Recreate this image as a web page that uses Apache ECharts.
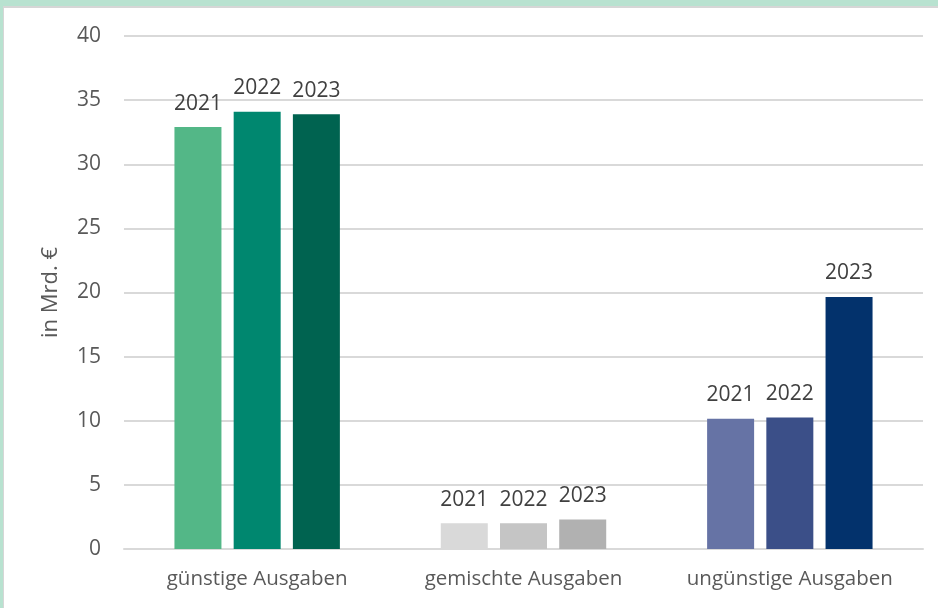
<!DOCTYPE html>
<html>
<head>
<meta charset="utf-8">
<script src="https://cdn.jsdelivr.net/npm/echarts@6/dist/echarts.min.js"></script>
<style>
    html, body {margin: 0; padding: 0; background: #b8e2d0;}
    #frame {position: absolute; left: 3px; top: 6px; width: 935px; height: 602px; background: #fff; border-left: 1px solid #d6d6d6; border-top: 2px solid #d6d6d6; box-sizing: border-box;}
    #chart {position: absolute; left: 0; top: 0; width: 938px; height: 608px;}
</style>
</head>
<body>
<div id="frame"></div>
<div id="chart"></div>
<script>
var categories = ['günstige Ausgaben', 'gemischte Ausgaben', 'ungünstige Ausgaben'];
var years = ['2021', '2022', '2023'];
var v2021 = [32.9, 2.0, 10.15];
var v2022 = [34.1, 2.0, 10.25];
var v2023 = [33.9, 2.3, 19.65];
var colors = [
    ['#53b787', '#d9d9d9', '#6673a5'],
    ['#00876f', '#c5c5c5', '#3b4f88'],
    ['#006350', '#b1b1b1', '#03326c']
];

var font = 'Open Sans';
var values = [v2021, v2022, v2023];

function makeSeries(i) {
    return {
        name: years[i],
        type: 'bar',
        barWidth: 47,
        barGap: '26%',
        data: values[i].map(function(v, j){
            return {value: v, itemStyle: {color: colors[i][j]}};
        }),
        label: {
            show: true,
            position: 'top',
            distance: 13,
            formatter: '{a}',
            color: '#404040',
            fontSize: 21,
            fontFamily: font
        }
    };
};

var chart = echarts.init(document.getElementById('chart'));
var opt = {
    animation: false,
    grid: {left: 124, right: 15, top: 36, bottom: 59},
    xAxis: {
        type: 'category',
        data: categories,
        axisLine: {lineStyle: {color: '#d9d9d9', width: 2}},
        axisTick: {show: false},
        axisLabel: {interval: 0, color: '#595959', fontSize: 20.5, fontFamily: font, margin: 20}
    },
    yAxis: {
        type: 'value',
        min: 0,
        max: 40,
        interval: 5,
        name: 'in Mrd. €',
        nameLocation: 'middle',
        nameGap: 62,
        nameTextStyle: {color: '#595959', fontSize: 22, fontFamily: font},
        axisLine: {show: false},
        axisTick: {show: false},
        axisLabel: {color: '#595959', fontSize: 21, fontFamily: font, margin: 23},
        splitLine: {lineStyle: {color: '#d9d9d9', width: 2}}
    },
    series: [makeSeries(0), makeSeries(1), makeSeries(2)]
};
chart.setOption(opt);
</script>
</body>
</html>
